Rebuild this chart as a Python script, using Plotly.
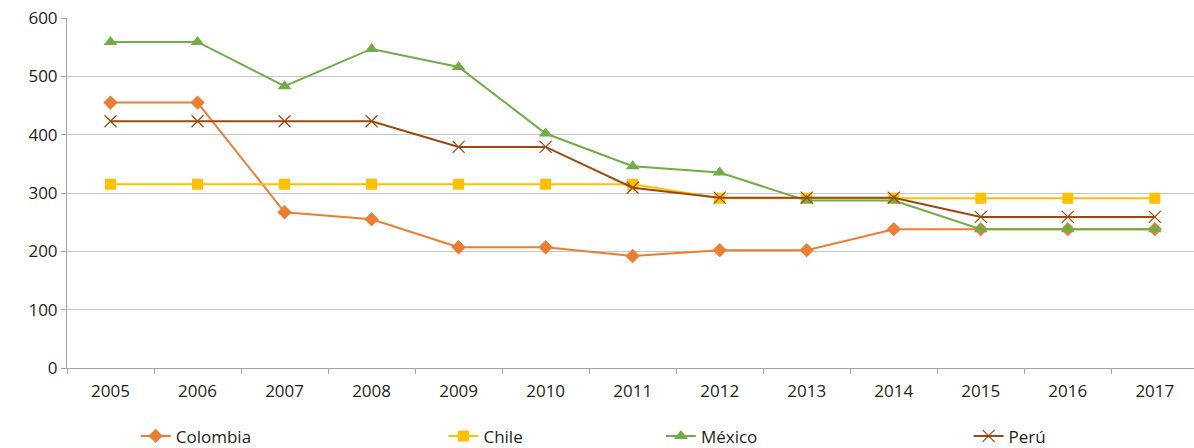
import plotly.graph_objects as go

years = ["2005", "2006", "2007", "2008", "2009", "2010", "2011", "2012", "2013", "2014", "2015", "2016", "2017"]
colombia = [455, 455, 267, 255, 207, 207, 192, 202, 202, 238, 238, 238, 238]
chile = [315, 315, 315, 315, 315, 315, 315, 291, 291, 291, 291, 291, 291]
mexico = [559, 559, 483, 547, 516, 402, 346, 335, 287, 287, 238, 238, 238]
peru = [423, 423, 423, 423, 379, 379, 309, 292, 292, 292, 259, 259, 259]

series = [
    ("Colombia", colombia, "#ED7D31", "diamond", 11, 1, 0.061),
    ("Chile", chile, "#FFC000", "square", 11, 1, 0.334),
    ("México", mexico, "#70AD47", "triangle-up", 12, 1, 0.527),
    ("Perú", peru, "#9E480E", "x-thin-open", 12, 1.2, 0.800),
]

fig = go.Figure()
for i, (name, vals, color, sym, size, lw, lx) in enumerate(series):
    leg = "legend" if i == 0 else f"legend{i+1}"
    marker = dict(symbol=sym, size=size, color=color)
    if sym.endswith("open"):
        marker["line"] = dict(color=color, width=lw)
    fig.add_trace(go.Scatter(
        x=years, y=vals, name=name, mode="lines+markers",
        line=dict(color=color, width=2), marker=marker, legend=leg,
    ))

legend_common = dict(orientation="h", yref="container", yanchor="middle", y=0.026, xanchor="left",
                     bgcolor="rgba(0,0,0,0)", font=dict(family="Open Sans", size=17, color="#231F20"))
layout_legends = {}
for i, s in enumerate(series):
    key = "legend" if i == 0 else f"legend{i+1}"
    layout_legends[key] = dict(legend_common, x=s[6])

fig.update_layout(
    width=1194, height=448,
    margin=dict(l=67, r=0, t=18, b=80, autoexpand=False),
    paper_bgcolor="white", plot_bgcolor="white",
    font=dict(family="Open Sans", size=17, color="#231F20"),
    showlegend=True,
    xaxis=dict(type="category", range=[-0.5, 12.45], showgrid=False,
               showline=True, linecolor="#A6A6A6", linewidth=1,
               ticks="outside", tickson="boundaries", ticklen=5, tickcolor="#A6A6A6",
               ticklabelstandoff=8,
               tickfont=dict(family="Open Sans", size=17, color="#231F20")),
    yaxis=dict(range=[0, 600], dtick=100, showgrid=True, gridcolor="#C8C8C8", gridwidth=1,
               showline=True, linecolor="#A6A6A6", linewidth=1,
               ticks="outside", ticklen=5, tickcolor="#A6A6A6", zeroline=False,
               tickfont=dict(family="Open Sans", size=17, color="#231F20")),
    **layout_legends,
)

fig.write_html("out.html")
